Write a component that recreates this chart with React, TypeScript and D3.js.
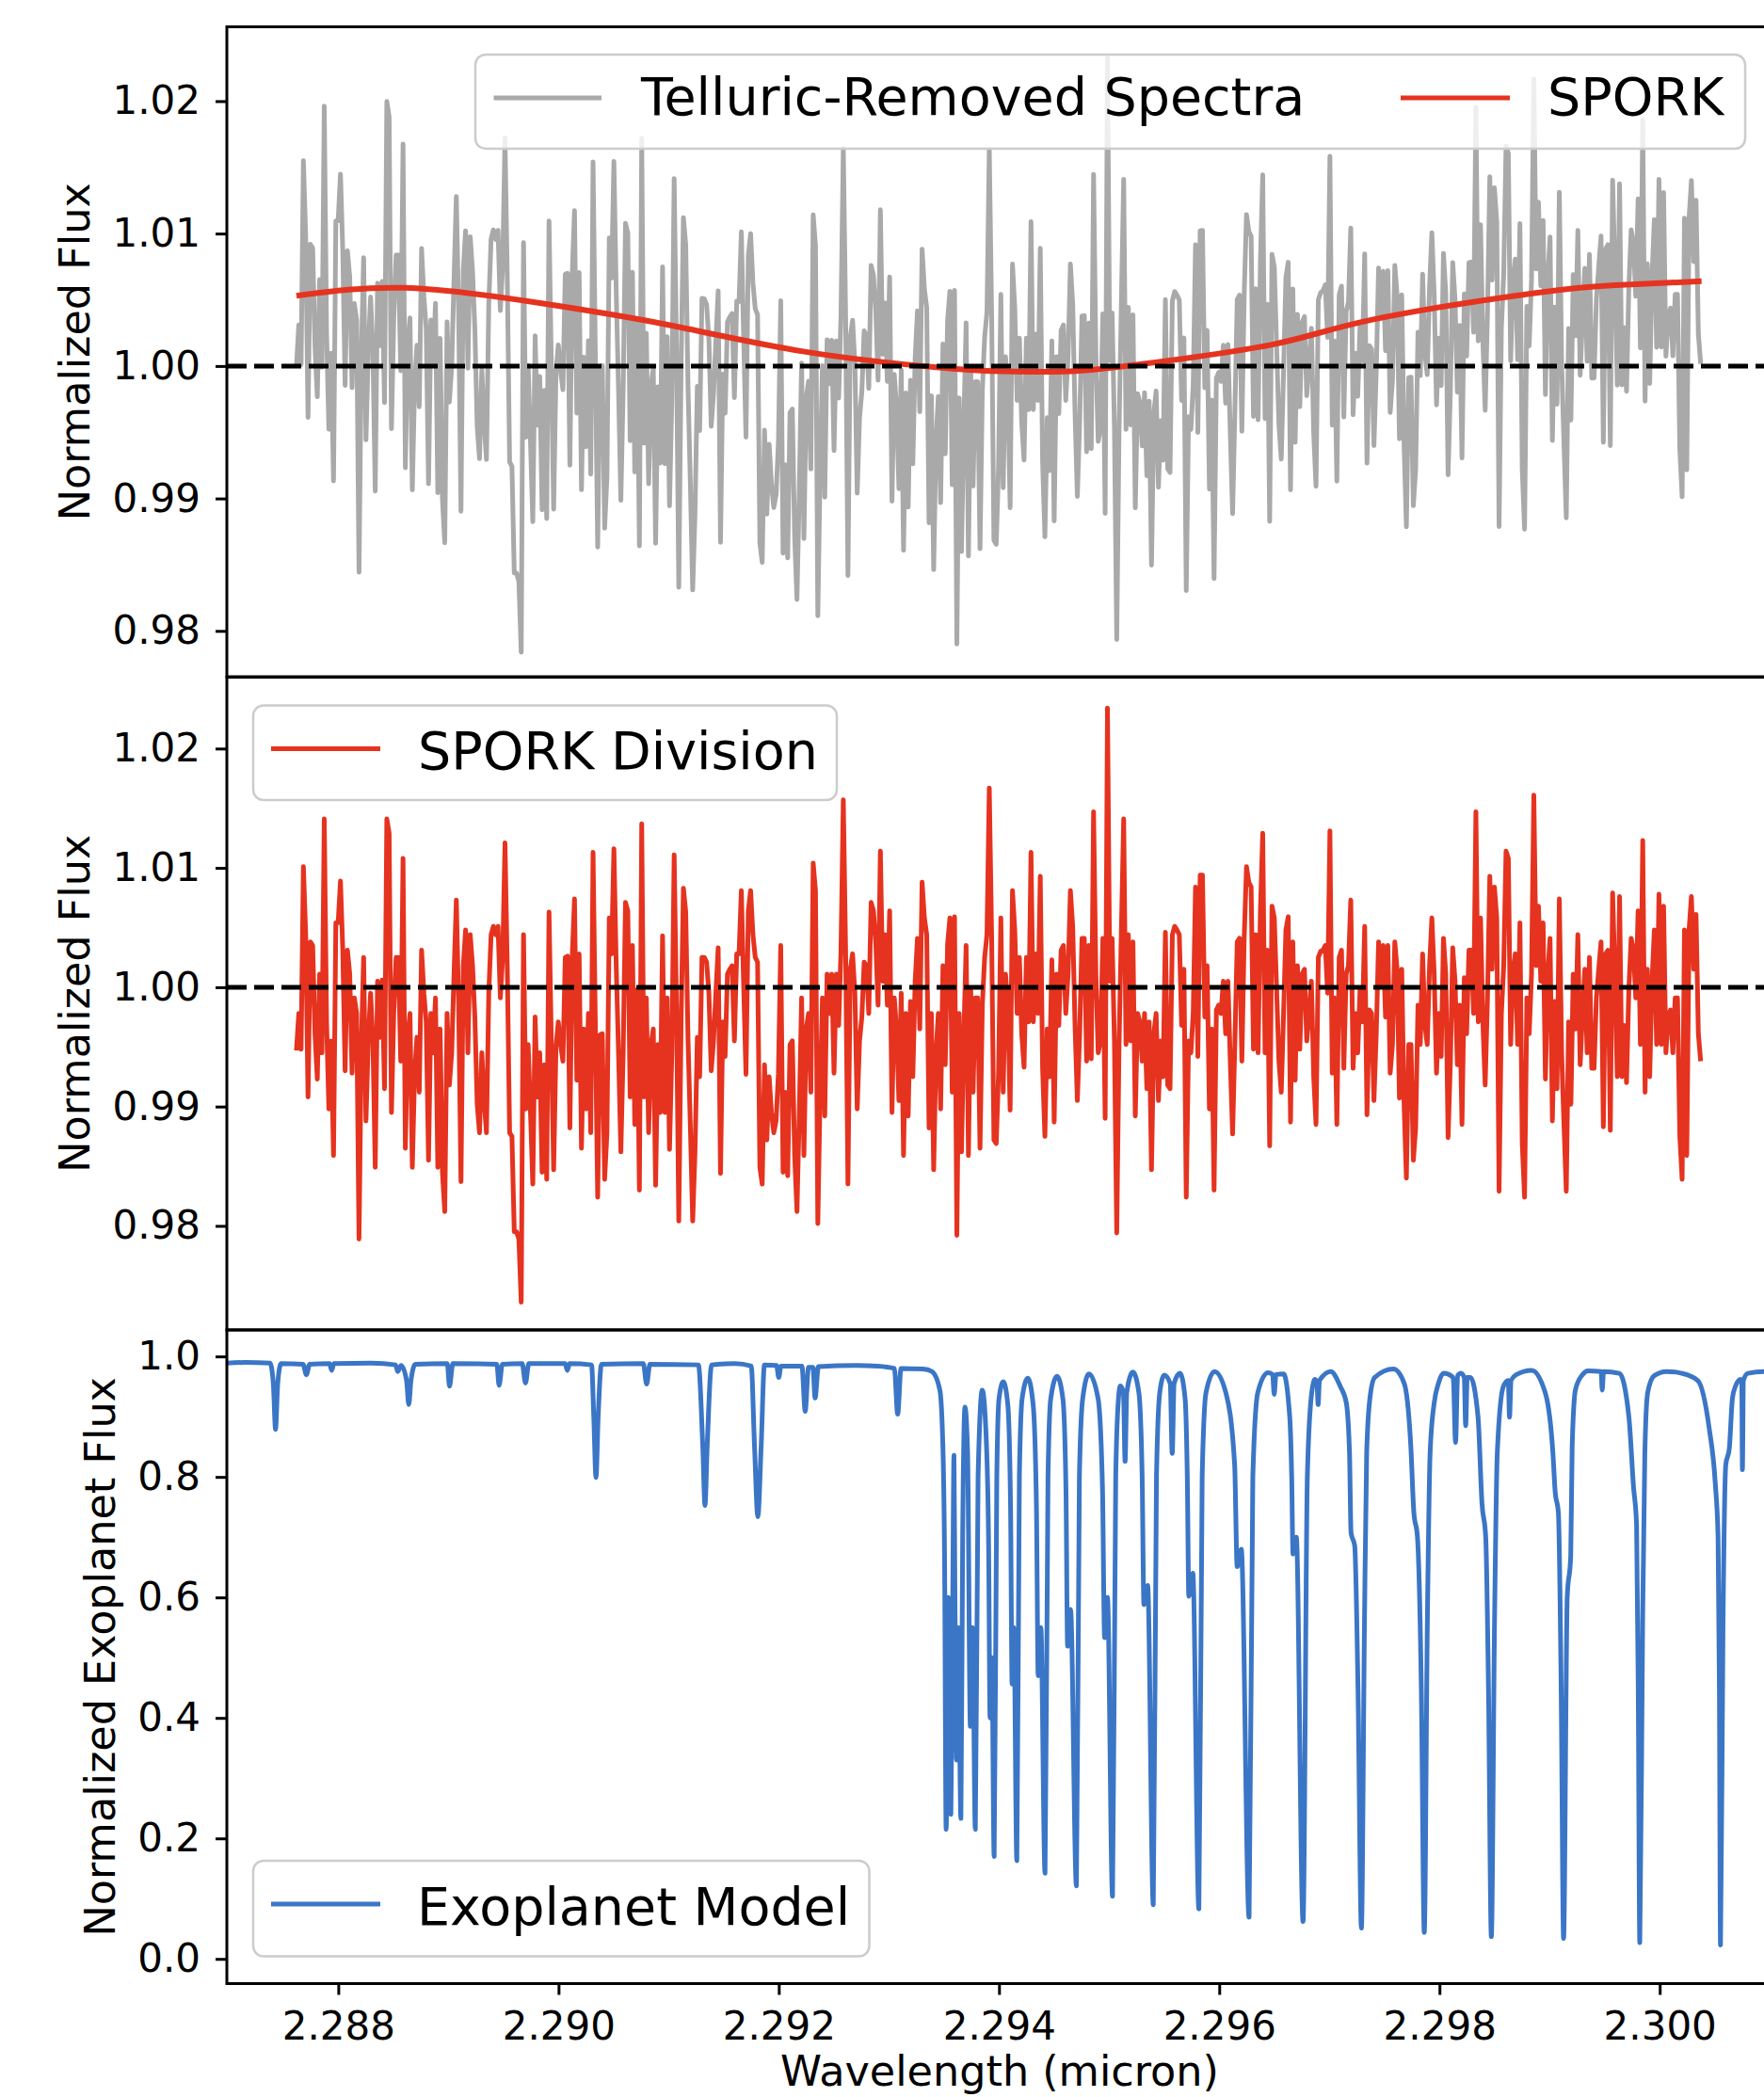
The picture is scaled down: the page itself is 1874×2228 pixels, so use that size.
import { useEffect, useRef } from 'react';
import * as d3 from 'd3';

// wavelength span of the observed spectrum (micron), one sample per value below
const WAVE_START = 2.28762;
const WAVE_END = 2.300372;

// SPORK-divided flux, left to right
const sporkDivision: number[] = [
	0.9947, 0.9978, 0.9948, 1.0101, 1.0044, 0.9908, 1.0038, 1.0035, 0.9961, 0.9923,
	1.0011, 0.9945, 1.0141, 0.9971, 0.9898, 0.9955, 0.9859, 1.0054, 1.0054, 1.0089,
	1.0031, 0.9930, 1.0031, 1.0011, 0.9928, 0.9991, 0.9978, 0.9789, 0.9952, 1.0025,
	0.9888, 0.9955, 0.9995, 0.9955, 0.9849, 1.0005, 0.9958, 1.0006, 0.9915, 1.0141,
	1.0129, 0.9895, 0.9978, 1.0025, 1.0025, 0.9938, 1.0108, 0.9865, 0.9958, 0.9978,
	0.9849, 0.9928, 0.9958, 0.9912, 1.0031, 0.9995, 0.9971, 0.9855, 0.9978, 0.9945,
	0.9991, 0.9849, 0.9965, 0.9845, 0.9812, 0.9978, 0.9918, 0.9945, 1.0011, 1.0073,
	0.9985, 0.9837, 1.0018, 1.0048, 0.9945, 1.0044, 1.0018, 0.9975, 0.9902, 0.9878,
	0.9945, 0.9905, 0.9878, 0.9995, 1.0044, 1.0051, 1.0044, 1.0051, 0.9991, 1.0025,
	1.0121, 1.0015, 0.9878, 0.9875, 0.9795, 0.9795, 0.9789, 0.9736, 1.0044, 0.9898,
	0.9952, 0.9895, 0.9835, 0.9975, 0.9908, 0.9945, 0.9845, 0.9935, 0.9839, 1.0063,
	0.9955, 0.9847, 0.9950, 0.9971, 0.9952, 0.9938, 1.0025, 1.0026, 0.9882, 1.0025,
	1.0074, 0.9922, 1.0028, 0.9865, 0.9965, 0.9898, 0.9978, 0.9878, 1.0113, 0.9968,
	0.9824, 0.9960, 0.9961, 0.9839, 0.9878, 1.0058, 1.0028, 1.0116, 1.0018, 0.9945,
	0.9862, 0.9945, 1.0071, 1.0064,
	0.9908, 1.0035, 0.9885, 0.9998, 0.9830, 1.0137, 0.9908, 0.9991, 0.9878, 0.9952,
	0.9965, 0.9834, 0.9952, 0.9895, 1.0043, 0.9895, 0.9991, 0.9864, 0.9945, 1.0111,
	0.9985, 0.9804, 0.9971, 1.0083, 1.0063, 0.9955, 0.9883, 0.9804, 0.9862, 0.9958,
	0.9925, 1.0025, 1.0025, 1.0021, 0.9995, 0.9930, 0.9955, 0.9995, 1.0033, 0.9844,
	0.9971, 0.9942, 1.0011, 1.0015, 1.0018, 0.9955, 1.0028, 1.0028, 1.0081, 1.0001,
	0.9927, 1.0064, 1.0081, 1.0044, 1.0025, 1.0021, 0.9849, 0.9835, 0.9935, 0.9872,
	0.9925, 0.9895, 0.9878, 0.9888, 0.9928, 1.0035, 0.9845, 0.9912, 0.9842, 0.9952,
	0.9955, 0.9859, 0.9812, 0.9895, 0.9991, 0.9859, 0.9965, 0.9978, 0.9912, 1.0104,
	1.0081, 0.9802, 0.9912, 0.9991, 0.9892, 1.0011, 0.9978, 1.0011, 0.9928, 1.0011,
	0.9968, 1.0031, 1.0157, 1.0031, 0.9835, 1.0015, 1.0028, 0.9995, 0.9898, 0.9955,
	0.9975, 1.0021, 1.0018, 0.9978, 1.0071, 1.0064, 1.0038, 0.9985, 1.0114, 1.0005,
	1.0044, 0.9985, 1.0064, 0.9895, 0.9991, 0.9965, 0.9905, 0.9995, 0.9859, 0.9978,
	0.9892, 0.9988, 0.9925, 1.0005, 1.0041, 0.9965, 1.0088, 1.0058, 1.0044, 0.9882,
	0.9978, 0.9847, 0.9945, 0.9978, 0.9898, 1.0018, 0.9935, 1.0036, 1.0058, 0.9912,
	1.0059, 0.9792, 0.9978, 0.9862, 0.9958, 1.0035, 0.9859, 0.9998, 0.9912, 0.9991,
	0.9991, 0.9865, 0.9985, 1.0025, 1.0044, 1.0167, 1.0044,
	0.9872, 0.9869, 0.9928, 1.0058, 0.9912, 1.0011, 0.9985, 0.9897, 1.0081, 1.0048,
	0.9978, 1.0025, 0.9961, 0.9933, 1.0025, 0.9971, 1.0113, 0.9971, 1.0028, 0.9978,
	1.0093, 0.9932, 0.9875, 0.9965, 0.9925, 1.0023, 0.9887, 1.0011, 0.9968, 1.0031,
	1.0035, 0.9978, 1.0011, 1.0081, 1.0051, 0.9968, 0.9905, 0.9961, 1.0041, 1.0041,
	0.9938, 1.0035, 0.9940, 1.0147, 1.0011, 0.9945, 0.9955, 1.0041, 0.9890, 1.0234,
	1.0005, 1.0041, 0.9955, 0.9794, 0.9952, 1.0048, 1.0141, 0.9952, 1.0044, 0.9955,
	1.0038, 0.9892, 0.9978, 0.9971, 0.9938, 0.9978, 0.9915, 0.9971, 0.9847, 0.9961,
	0.9978, 0.9905, 0.9955, 0.9925, 1.0046, 0.9918, 0.9915, 1.0044, 1.0051, 1.0048,
	1.0044, 0.9968, 1.0015, 0.9824, 0.9955, 0.9945, 0.9978, 1.0084, 0.9942, 1.0094,
	1.0094, 0.9975, 1.0018, 0.9898, 0.9965, 0.9830, 0.9981, 0.9985, 0.9978, 1.0005,
	0.9961, 1.0005, 0.9938, 0.9877, 0.9955, 1.0038, 1.0041, 0.9938, 1.0041, 1.0101,
	1.0088, 1.0084, 0.9948, 1.0044, 0.9945, 1.0064, 1.0129, 0.9945, 1.0031, 0.9867,
	1.0068, 1.0058, 0.9998, 0.9938, 0.9912, 0.9978, 1.0048, 1.0059, 0.9887, 1.0038,
	0.9922, 1.0018, 0.9948, 1.0011, 1.0015, 0.9955, 0.9978, 1.0005, 0.9925, 0.9885,
	1.0025, 1.0030, 1.0031, 1.0035, 0.9995, 1.0131, 0.9928, 0.9991, 0.9885, 1.0025,
	1.0031, 0.9932, 1.0011, 1.0018, 1.0073,
	0.9932, 0.9978, 0.9945, 0.9998, 0.9971, 1.0051, 0.9893, 0.9981, 0.9978, 0.9905,
	0.9961, 1.0038, 1.0001, 1.0035, 0.9975, 1.0035, 0.9928, 0.9952, 1.0038, 1.0015,
	0.9907, 1.0015, 0.9902, 0.9840, 0.9952, 0.9952, 0.9855, 0.9882, 0.9985, 0.9952,
	1.0028, 0.9968, 0.9952, 1.0018, 1.0058, 1.0011, 0.9928, 0.9978, 0.9942, 1.0041,
	1.0011, 0.9874, 0.9938, 1.0033, 1.0005, 0.9935, 0.9985, 0.9885, 1.0008, 0.9961,
	1.0031, 1.0031, 0.9978, 1.0147, 0.9971, 1.0058, 0.9971, 0.9918, 0.9991, 1.0093,
	1.0015, 1.0084, 1.0058, 0.9829, 0.9978, 1.0018, 1.0114, 1.0108, 0.9952, 1.0011,
	1.0028, 0.9952, 1.0054, 0.9869, 0.9824, 0.9991, 0.9961, 1.0011, 1.0161, 1.0018,
	1.0068, 1.0005, 1.0054, 0.9923, 1.0011, 1.0041, 0.9888, 0.9988, 0.9915, 1.0074,
	0.9945, 0.9885, 0.9829, 0.9971, 0.9902, 1.0011, 0.9965, 1.0044, 0.9935, 0.9978,
	1.0015, 0.9945, 1.0025, 0.9932, 0.9932, 0.9991, 1.0015, 1.0038, 0.9883, 1.0028,
	1.0031, 0.9880, 1.0079, 1.0011, 0.9925, 1.0076, 0.9925, 0.9968, 0.9920, 0.9998,
	1.0041, 1.0031, 0.9991, 1.0064, 0.9952, 1.0123, 0.9912, 1.0015, 0.9925, 1.0005,
	1.0048, 0.9952, 1.0078, 0.9952, 1.0068, 0.9945, 0.9976, 0.9981, 0.9945, 0.9991,
	0.9991, 0.9875, 0.9839, 1.0048, 0.9859, 1.0048, 1.0076, 1.0015, 1.0061, 0.9961,
	0.9938,
];

// SPORK continuum fit
const sporkWave: number[] = [
	2.28762, 2.2886, 2.28979, 2.291, 2.29222, 2.29343, 2.29404,
	2.29465, 2.29525, 2.29647, 2.29739, 2.29886, 2.2996, 2.30038,
];
const sporkFlux: number[] = [
	1.0053, 1.0059, 1.0048, 1.0031, 1.0011, 0.9999, 0.9996,
	0.9996, 1.0001, 1.0016, 1.0035, 1.0055, 1.0061, 1.0064,
];

// exoplanet model: [wavelength, normalized flux]
const modelPoints: [number, number][] = [
	[2.286988, 0.989], [2.28715, 0.99], [2.28738, 0.989], [2.28741, 0.955], [2.28743, 0.879],
	[2.28745, 0.955], [2.28748, 0.988], [2.28768, 0.987], [2.28771, 0.9695], [2.28774, 0.987],
	[2.28792, 0.988], [2.28794, 0.977], [2.28796, 0.988], [2.2883, 0.989], [2.28852, 0.986],
	[2.28854, 0.975], [2.28857, 0.985], [2.28862, 0.96], [2.28864, 0.92], [2.28866, 0.96],
	[2.2887, 0.987], [2.28899, 0.988], [2.28901, 0.9505], [2.28904, 0.988], [2.28944, 0.987],
	[2.28946, 0.952], [2.28949, 0.987], [2.28967, 0.988], [2.2897, 0.9558], [2.28973, 0.988],
	[2.29006, 0.988], [2.29008, 0.977], [2.2901, 0.988], [2.2903, 0.986], [2.29032, 0.9],
	[2.29034, 0.799], [2.29036, 0.9], [2.29039, 0.987], [2.29077, 0.988], [2.2908, 0.954],
	[2.29083, 0.987], [2.29127, 0.986], [2.29131, 0.85], [2.29133, 0.7525], [2.29135, 0.85],
	[2.29139, 0.986], [2.2916, 0.988], [2.29175, 0.984], [2.29178, 0.85], [2.29181, 0.734],
	[2.29184, 0.85], [2.29187, 0.986], [2.29198, 0.985], [2.292, 0.965], [2.29202, 0.984],
	[2.29221, 0.984], [2.29224, 0.909], [2.29227, 0.982], [2.29231, 0.982], [2.29233, 0.931],
	[2.29236, 0.983], [2.2927, 0.985], [2.2929, 0.984], [2.29305, 0.98], [2.29308, 0.904],
	[2.29311, 0.98], [2.29331, 0.979], [2.29339, 0.975], [2.293463, 0.944], [2.293492, 0.84],
	[2.293506, 0.658], [2.29352, 0.215], [2.29354, 0.6], [2.293563, 0.24], [2.29358, 0.6],
	[2.293591, 0.836], [2.2936, 0.6], [2.293614, 0.33], [2.29363, 0.55], [2.293654, 0.233],
	[2.29367, 0.7], [2.293691, 0.916], [2.293715, 0.84], [2.29374, 0.386], [2.29376, 0.55],
	[2.293785, 0.215], [2.29381, 0.8], [2.293848, 0.944], [2.29388, 0.88], [2.293905, 0.7],
	[2.293919, 0.4], [2.293935, 0.5], [2.293956, 0.17], [2.29398, 0.8], [2.294, 0.93],
	[2.294039, 0.958], [2.29408, 0.92], [2.294105, 0.75], [2.294119, 0.456], [2.294135, 0.55],
	[2.294162, 0.163], [2.294185, 0.8], [2.29421, 0.93], [2.294262, 0.964], [2.29431, 0.92],
	[2.29434, 0.75], [2.294356, 0.47], [2.29438, 0.55], [2.294418, 0.142], [2.294445, 0.8],
	[2.29447, 0.93], [2.294527, 0.967], [2.29458, 0.93], [2.294608, 0.78], [2.294623, 0.519],
	[2.29465, 0.58], [2.294703, 0.121], [2.29473, 0.8], [2.29476, 0.93], [2.294817, 0.971],
	[2.2949, 0.93], [2.29494, 0.78], [2.294959, 0.533], [2.294985, 0.6], [2.295031, 0.104],
	[2.29506, 0.8], [2.295085, 0.93], [2.295102, 0.951], [2.29513, 0.94], [2.295145, 0.826],
	[2.29516, 0.94], [2.295216, 0.974], [2.29527, 0.94], [2.2953, 0.8], [2.295316, 0.588],
	[2.29535, 0.62], [2.295401, 0.09], [2.29543, 0.8], [2.29546, 0.94], [2.295501, 0.969],
	[2.295555, 0.955], [2.295573, 0.839], [2.29559, 0.955], [2.295644, 0.972], [2.29569, 0.93],
	[2.29571, 0.8], [2.295724, 0.602], [2.29576, 0.64], [2.295815, 0.083], [2.295845, 0.8],
	[2.29588, 0.94], [2.295957, 0.975], [2.29606, 0.94], [2.29614, 0.82], [2.296163, 0.651],
	[2.2962, 0.68], [2.296271, 0.069], [2.296305, 0.8], [2.29635, 0.94], [2.296442, 0.973],
	[2.296485, 0.97], [2.296499, 0.937], [2.296515, 0.97], [2.296584, 0.971], [2.29664, 0.9],
	[2.296658, 0.8], [2.29667, 0.672], [2.2967, 0.7], [2.296761, 0.062], [2.2968, 0.8],
	[2.29684, 0.94], [2.29687, 0.962], [2.296888, 0.955], [2.296898, 0.92], [2.29691, 0.96],
	[2.297012, 0.975], [2.2971, 0.95], [2.297154, 0.923], [2.297183, 0.84], [2.297197, 0.707],
	[2.29723, 0.686], [2.29726, 0.45], [2.297291, 0.051], [2.297319, 0.56], [2.297339, 0.84],
	[2.297368, 0.93], [2.297411, 0.965], [2.297582, 0.979], [2.29768, 0.955], [2.29774, 0.85],
	[2.297767, 0.742], [2.2978, 0.7], [2.297835, 0.45], [2.297862, 0.044], [2.29789, 0.56],
	[2.297915, 0.84], [2.297952, 0.923], [2.29799, 0.955], [2.298038, 0.972], [2.298125, 0.965],
	[2.298146, 0.857], [2.298165, 0.968], [2.298195, 0.972], [2.298225, 0.965], [2.298238, 0.885],
	[2.298252, 0.965], [2.298281, 0.965], [2.29835, 0.9], [2.298386, 0.756], [2.29842, 0.7],
	[2.298445, 0.45], [2.298471, 0.037], [2.2985, 0.56], [2.298525, 0.84], [2.29858, 0.95],
	[2.298625, 0.96], [2.298636, 0.899], [2.29865, 0.96], [2.2987, 0.97], [2.298836, 0.977],
	[2.29896, 0.94], [2.29903, 0.84], [2.29905, 0.777], [2.29908, 0.74], [2.299105, 0.45],
	[2.299127, 0.034], [2.29916, 0.6], [2.299192, 0.669], [2.299205, 0.85], [2.299235, 0.945],
	[2.2993, 0.97], [2.299349, 0.976], [2.299468, 0.975], [2.299478, 0.944], [2.29949, 0.975],
	[2.299634, 0.972], [2.29972, 0.9], [2.299762, 0.784], [2.29979, 0.72], [2.299805, 0.45],
	[2.299819, 0.027], [2.299845, 0.56], [2.299865, 0.84], [2.299891, 0.94], [2.29995, 0.968],
	[2.300062, 0.975], [2.3002, 0.972], [2.300346, 0.96], [2.30045, 0.88], [2.300504, 0.791],
	[2.30053, 0.7], [2.300542, 0.45], [2.300552, 0.023], [2.300575, 0.56], [2.3006, 0.82],
	[2.300632, 0.847], [2.30066, 0.93], [2.300689, 0.951], [2.300735, 0.962], [2.300745, 0.96],
	[2.300751, 0.812], [2.30076, 0.96], [2.3008, 0.972], [2.30096, 0.975], [2.30103, 0.975],
];

const fluxTicks = [0.98, 0.99, 1.0, 1.01, 1.02];
const modelTicks = [0.0, 0.2, 0.4, 0.6, 0.8, 1.0];
const waveTicks = [2.288, 2.29, 2.292, 2.294, 2.296, 2.298, 2.3];

const GRAY = '#a9a9a9';
const RED = '#e5331f';
const BLUE = '#3b76c6';
const FONT = "'DejaVu Sans', sans-serif";
const LW = 5;

const SpectraFigure: React.FC = () => {
	const ref = useRef<SVGSVGElement>(null);

	useEffect(() => {
		if (!ref.current) return;
		const svg = d3.select(ref.current);
		svg.selectAll('*').remove();

		const left = 241;
		const right = 1883;
		const x = d3.scaleLinear().domain([2.286988, 2.301024]).range([left, right]);

		const n = sporkDivision.length;
		const wave = d3.range(n).map((i) => WAVE_START + ((WAVE_END - WAVE_START) * i) / (n - 1));
		const sporkAt = d3.scaleLinear().domain(sporkWave).range(sporkFlux).clamp(true);
		const telluric = sporkDivision.map((v, i) => v * sporkAt(wave[i]));

		const y1 = d3.scaleLinear().domain([0.97654, 1.02561]).range([719, 28.5]);
		const y2 = d3.scaleLinear().domain([0.97128, 1.02598]).range([1413, 719.5]);
		const y3 = d3.scaleLinear().domain([-0.041, 1.044]).range([2107.5, 1413]);

		const defs = svg.append('defs');

		const makePanel = (id: string, y: d3.ScaleLinear<number, number>) => {
			const [bottom, top] = y.range();
			defs.append('clipPath')
				.attr('id', id)
				.append('rect')
				.attr('x', left)
				.attr('y', top)
				.attr('width', right - left)
				.attr('height', bottom - top);
			return svg.append('g').attr('clip-path', `url(#${id})`);
		};

		const yAxis = (y: d3.ScaleLinear<number, number>, ticks: number[], fmt: string) => {
			svg.append('g')
				.attr('transform', `translate(${left},0)`)
				.call(
					d3.axisLeft(y)
						.tickValues(ticks)
						.tickFormat(d3.format(fmt) as any)
						.tickSize(12)
						.tickPadding(16)
						.tickSizeOuter(0)
				)
				.attr('font-size', 42)
				.attr('font-family', FONT)
				.call((g) => g.select('.domain').remove())
				.call((g) => g.selectAll('.tick line').attr('stroke', '#000').attr('stroke-width', 3));
		};

		const yLabel = (text: string, xPos: number, y: d3.ScaleLinear<number, number>) => {
			const [bottom, top] = y.range();
			const cy = (bottom + top) / 2;
			svg.append('text')
				.attr('x', xPos)
				.attr('y', cy)
				.attr('transform', `rotate(-90, ${xPos}, ${cy})`)
				.attr('text-anchor', 'middle')
				.attr('font-size', 44.5)
				.attr('font-family', FONT)
				.attr('fill', '#000')
				.text(text);
		};

		const spectrumLine = (y: d3.ScaleLinear<number, number>) =>
			d3.line<number>()
				.x((_, i) => x(wave[i]))
				.y((d) => y(d));

		const unityLine = (g: d3.Selection<SVGGElement, unknown, null, undefined>, y: d3.ScaleLinear<number, number>) => {
			g.append('line')
				.attr('x1', left)
				.attr('x2', right)
				.attr('y1', y(1))
				.attr('y2', y(1))
				.attr('stroke', '#000')
				.attr('stroke-width', 5)
				.attr('stroke-dasharray', '21 8');
		};

		type LegendItem = { x1: number; x2: number; tx: number; color: string; width: number; label: string };
		const legend = (
			box: { x: number; y: number; w: number; h: number },
			lineY: number,
			baseY: number,
			items: LegendItem[]
		) => {
			const g = svg.append('g');
			g.append('rect')
				.attr('x', box.x)
				.attr('y', box.y)
				.attr('width', box.w)
				.attr('height', box.h)
				.attr('rx', 11)
				.attr('fill', '#fff')
				.attr('fill-opacity', 0.8)
				.attr('stroke', '#cccccc')
				.attr('stroke-width', 2.5);
			items.forEach((it) => {
				g.append('line')
					.attr('x1', it.x1)
					.attr('x2', it.x2)
					.attr('y1', lineY)
					.attr('y2', lineY)
					.attr('stroke', it.color)
					.attr('stroke-width', it.width);
				g.append('text')
					.attr('x', it.tx)
					.attr('y', baseY)
					.attr('font-size', 55.5)
					.attr('font-family', FONT)
					.attr('fill', '#000')
					.text(it.label);
			});
		};

		const spine = (y: d3.ScaleLinear<number, number>) => {
			const [bottom, top] = y.range();
			svg.append('rect')
				.attr('x', left)
				.attr('y', top)
				.attr('width', right - left)
				.attr('height', bottom - top)
				.attr('fill', 'none')
				.attr('stroke', '#000')
				.attr('stroke-width', 3);
		};

		// panel 1: telluric-removed spectrum with SPORK fit
		const p1 = makePanel('clip-p1', y1);
		p1.append('path')
			.datum(telluric)
			.attr('d', spectrumLine(y1))
			.attr('fill', 'none')
			.attr('stroke', GRAY)
			.attr('stroke-width', LW)
			.attr('stroke-linejoin', 'round');
		p1.append('path')
			.datum(sporkFlux)
			.attr(
				'd',
				d3.line<number>()
					.x((_, i) => x(sporkWave[i]))
					.y((d) => y1(d))
					.curve(d3.curveNatural)
			)
			.attr('fill', 'none')
			.attr('stroke', RED)
			.attr('stroke-width', 6);
		unityLine(p1, y1);

		// panel 2: SPORK division
		const p2 = makePanel('clip-p2', y2);
		p2.append('path')
			.datum(sporkDivision)
			.attr('d', spectrumLine(y2))
			.attr('fill', 'none')
			.attr('stroke', RED)
			.attr('stroke-width', LW)
			.attr('stroke-linejoin', 'round');
		unityLine(p2, y2);

		// panel 3: exoplanet model
		const p3 = makePanel('clip-p3', y3);
		p3.append('path')
			.datum(modelPoints)
			.attr(
				'd',
				d3.line<[number, number]>()
					.x((d) => x(d[0]))
					.y((d) => y3(d[1]))
					.curve(d3.curveMonotoneX)
			)
			.attr('fill', 'none')
			.attr('stroke', BLUE)
			.attr('stroke-width', LW)
			.attr('stroke-linejoin', 'round');

		spine(y1);
		spine(y2);
		spine(y3);

		yAxis(y1, fluxTicks, '.2f');
		yAxis(y2, fluxTicks, '.2f');
		yAxis(y3, modelTicks, '.1f');

		svg.append('g')
			.attr('transform', `translate(0,${y3.range()[0]})`)
			.call(
				d3.axisBottom(x)
					.tickValues(waveTicks)
					.tickFormat(d3.format('.3f') as any)
					.tickSize(12)
					.tickPadding(18)
					.tickSizeOuter(0)
			)
			.attr('font-size', 42)
			.attr('font-family', FONT)
			.call((g) => g.select('.domain').remove())
			.call((g) => g.selectAll('.tick line').attr('stroke', '#000').attr('stroke-width', 3));

		yLabel('Normalized Flux', 94.5, y1);
		yLabel('Normalized Flux', 94.5, y2);
		yLabel('Normalized Exoplanet Flux', 122, y3);

		svg.append('text')
			.attr('x', (left + right) / 2)
			.attr('y', 2216)
			.attr('text-anchor', 'middle')
			.attr('font-size', 44.5)
			.attr('font-family', FONT)
			.attr('fill', '#000')
			.text('Wavelength (micron)');

		legend({ x: 505, y: 58, w: 1349, h: 100 }, 104, 122, [
			{ x1: 524.5, x2: 639, tx: 681, color: GRAY, width: LW, label: 'Telluric-Removed Spectra' },
			{ x1: 1488, x2: 1604, tx: 1644, color: RED, width: LW, label: 'SPORK' },
		]);
		legend({ x: 269, y: 749.5, w: 620, h: 100.5 }, 795.5, 816.5, [
			{ x1: 288, x2: 404, tx: 444, color: RED, width: LW, label: 'SPORK Division' },
		]);
		legend({ x: 269, y: 1977, w: 654.5, h: 101.5 }, 2023, 2045, [
			{ x1: 288, x2: 404, tx: 443, color: BLUE, width: LW, label: 'Exoplanet Model' },
		]);
	}, []);

	return (
		<svg
			ref={ref}
			width={1874}
			height={2228}
			style={{ position: 'absolute', left: 0, top: 0, background: '#fff' }}
		></svg>
	);
};

const App = () => <SpectraFigure />;

export default App;
